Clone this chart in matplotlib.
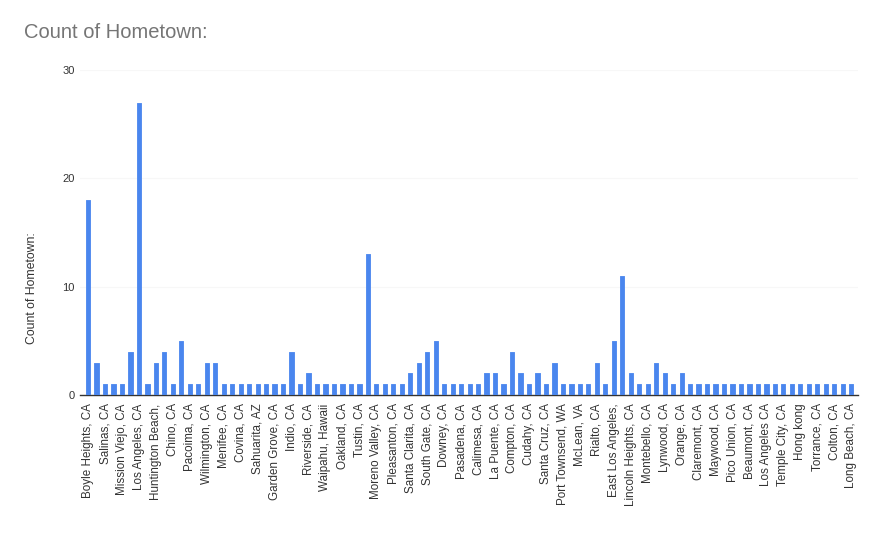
import matplotlib
matplotlib.use("Agg")
import matplotlib.pyplot as plt
import numpy as np

# Bar values (91 bars, in order left to right)
values = [18, 3, 1, 1, 1, 4, 27, 1, 3, 4,
          1, 5, 1, 1, 3, 3, 1, 1, 1, 1,
          1, 1, 1, 1, 4, 1, 2, 1, 1, 1,
          1, 1, 1, 13, 1, 1, 1, 1, 2, 3,
          4, 5, 1, 1, 1, 1, 1, 2, 2, 1,
          4, 2, 1, 2, 1, 3, 1, 1, 1, 1,
          3, 1, 5, 11, 2, 1, 1, 3, 2, 1,
          2, 1, 1, 1, 1, 1, 1, 1, 1, 1,
          1, 1, 1, 1, 1, 1, 1, 1, 1, 1, 1]

# Visible tick labels (every other bar, starting with the first)
tick_labels = ["Boyle Heights, CA", "Salinas, CA", "Mission Viejo, CA", "Los Angeles, CA",
               "Huntington Beach,", "Chino, CA", "Pacoima, CA", "Wilmington, CA",
               "Menifee, CA", "Covina, CA", "Sahuarita, AZ", "Garden Grove, CA",
               "Indio, CA", "Riverside, CA", "Waipahu, Hawaii", "Oakland, CA",
               "Tustin, CA", "Moreno Valley, CA", "Pleasanton, CA", "Santa Clarita, CA",
               "South Gate, CA", "Downey, CA", "Pasadena, CA", "Calimesa, CA",
               "La Puente, CA", "Compton, CA", "Cudahy, CA", "Santa Cruz, CA",
               "Port Townsend, WA", "McLean, VA", "Rialto, CA", "East Los Angeles,",
               "Lincoln Heights, CA", "Montebello, CA", "Lynwood, CA", "Orange, CA",
               "Claremont, CA", "Maywood, CA", "Pico Union, CA", "Beaumont, CA",
               "Los Angeles CA", "Temple City, CA", "Hong kong", "Torrance, CA",
               "Colton, CA", "Long Beach, CA"]

y_ticks = [0, 10, 20, 30]

plt.rcParams['font.family'] = ['Liberation Sans', 'DejaVu Sans']

fig = plt.figure(figsize=(8.74, 5.36), dpi=100)
ax = fig.add_axes([80/874, 1 - 395/536, (858 - 80)/874, (395 - 70)/536])

x = np.arange(len(values))
ax.bar(x, values, width=0.5, color='#4a86ee', edgecolor='#4a86ee',
       linewidth=0.6, joinstyle='round', zorder=3)

ax.set_xlim(-0.95, len(values) - 0.2)
ax.set_ylim(0, 30)
ax.set_yticks(y_ticks)
ax.set_yticklabels([str(v) for v in y_ticks], fontsize=8, color='#333333')
ax.yaxis.grid(True, color='#f7f7f7', linewidth=0.8, zorder=0)
ax.set_axisbelow(True)

ax.set_xticks(x[::2])
ax.set_xticklabels(tick_labels, rotation=90, fontsize=8.4, color='#333333',
                   ha='center', va='top')
ax.tick_params(axis='both', length=0)
ax.tick_params(axis='x', pad=6)
ax.tick_params(axis='y', pad=4)

for s in ['top', 'right', 'left']:
    ax.spines[s].set_visible(False)
ax.spines['bottom'].set_color('#333333')
ax.spines['bottom'].set_linewidth(1)

fig.text(24/874, 1 - 32/536, "Count of Hometown:", fontsize=14.5, color='#757575',
         ha='left', va='center')
fig.text(32/874, 1 - 288/536, "Count of Hometown:", fontsize=8.8, color='#333333',
         rotation=90, ha='center', va='center')

fig.savefig("out.png", dpi=100, facecolor='white')
